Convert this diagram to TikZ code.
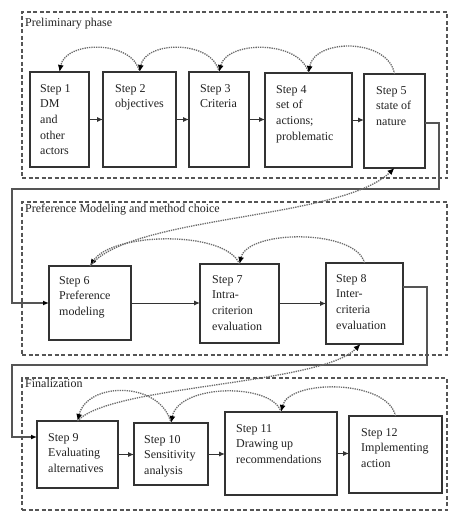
\documentclass[tikz,border=0pt]{standalone}
\usepackage{fontspec}
\setmainfont{Liberation Serif}
\usetikzlibrary{arrows.meta}
\definecolor{boxline}{HTML}{333333}
\definecolor{frameline}{HTML}{555555}
\definecolor{arcline}{HTML}{6A6A6A}
\definecolor{txt}{HTML}{222222}
\tikzset{
  stepbox/.style={draw=boxline, line width=1.3pt, inner sep=0pt, outer sep=0pt, anchor=north west},
  steptext/.style={inner sep=0pt, anchor=north west, align=left, text=txt, font={\fontsize{12}{15.7}\selectfont}},
  phasebox/.style={draw=frameline, line width=1.1pt, dash pattern=on 4pt off 2.5pt, inner sep=0pt, outer sep=0pt, anchor=north west},
  phaselabel/.style={inner sep=0pt, anchor=base west, text=txt, font={\fontsize{12}{14}\selectfont}},
  flow/.style={draw=boxline, line width=1pt, -{Latex[length=6pt,width=5pt]}},
  route/.style={draw=frameline, line width=1.2pt, -{Latex[length=6pt,width=5pt,color=black]}},
  back/.style={draw=arcline, line width=1.3pt, densely dotted, -{Latex[length=7pt,width=6pt,color=black]}},
}
\begin{document}
\begin{tikzpicture}[x=1pt,y=-1pt]
\useasboundingbox[fill=white] (0,0) rectangle (460,527);

% phase frames
\node[phasebox, minimum width=425pt, minimum height=166pt] (ph1) at (22,12) {};
\node[phasebox, minimum width=425pt, minimum height=153pt] (ph2) at (22,202) {};
\node[phasebox, minimum width=425pt, minimum height=132pt] (ph3) at (22,378) {};
\node[phaselabel] (l1) at (25,27) {Preliminary phase};
\node[phaselabel] (l2) at (25,212) {Preference Modeling and method choice};
\node[phaselabel] (l3) at (25,387) {Finalization};

% step boxes
\node[stepbox, minimum width=59pt, minimum height=95pt] (s1) at (30,72) {};
\node[stepbox, minimum width=73pt, minimum height=95pt] (s2) at (103,72) {};
\node[stepbox, minimum width=60pt, minimum height=95pt] (s3) at (189,72) {};
\node[stepbox, minimum width=87pt, minimum height=94pt] (s4) at (265,73) {};
\node[stepbox, minimum width=61pt, minimum height=94pt] (s5) at (364,74) {};
\node[stepbox, minimum width=82pt, minimum height=74pt] (s6) at (49,266) {};
\node[stepbox, minimum width=79pt, minimum height=79pt] (s7) at (200,264) {};
\node[stepbox, minimum width=77pt, minimum height=81pt] (s8) at (326,263) {};
\node[stepbox, minimum width=81pt, minimum height=67pt] (s9) at (37,421) {};
\node[stepbox, minimum width=74pt, minimum height=62pt] (s10) at (134,423) {};
\node[stepbox, minimum width=112pt, minimum height=83pt] (s11) at (225,412) {};
\node[stepbox, minimum width=93pt, minimum height=77pt] (s12) at (349,416) {};

% texts
\node[steptext] (t1) at ([xshift=10pt,yshift=-12pt]s1.north west) {Step 1\\DM\\and\\other\\actors};
\node[steptext] (t2) at ([xshift=12pt,yshift=-12pt]s2.north west) {Step 2\\objectives};
\node[steptext] (t3) at ([xshift=11pt,yshift=-12pt]s3.north west) {Step 3\\Criteria};
\node[steptext] (t4) at ([xshift=11pt,yshift=-12pt]s4.north west) {Step 4\\set of\\actions;\\problematic};
\node[steptext] (t5) at ([xshift=12pt,yshift=-12pt]s5.north west) {Step 5\\state of\\nature};
\node[steptext] (t6) at ([xshift=10pt,yshift=-10pt]s6.north west) {Step 6\\Preference\\modeling};
\node[steptext] (t7) at ([xshift=12pt,yshift=-11pt]s7.north west) {Step 7\\Intra-\\criterion\\evaluation};
\node[steptext] (t8) at ([xshift=10pt,yshift=-11pt]s8.north west) {Step 8\\Inter-\\criteria\\evaluation};
\node[steptext] (t9) at ([xshift=11pt,yshift=-12pt]s9.north west) {Step 9\\Evaluating\\alternatives};
\node[steptext] (t10) at ([xshift=10pt,yshift=-12pt]s10.north west) {Step 10\\Sensitivity\\analysis};
\node[steptext] (t11) at ([xshift=11pt,yshift=-12pt]s11.north west) {Step 11\\Drawing up\\recommendations};
\node[steptext] (t12) at ([xshift=12pt,yshift=-12pt]s12.north west) {Step 12\\Implementing\\action};

% forward arrows
\draw[flow] (s1.east) -- (s1.east -| s2.west);
\draw[flow] (s2.east) -- (s2.east -| s3.west);
\draw[flow] (s3.east) -- (s3.east -| s4.west);
\draw[flow] (s4.east) -- (s4.east -| s5.west);
\draw[flow] (s6.east) -- (s6.east -| s7.west);
\draw[flow] (s7.east) -- (s7.east -| s8.west);
\draw[flow] (s9.east) -- (s9.east -| s10.west);
\draw[flow] (s10.east) -- (s10.east -| s11.west);
\draw[flow] (s11.east) -- (s11.east -| s12.west);

% routing between phases
\coordinate (r1) at (439,189);
\coordinate (r2) at (12,189);
\coordinate (r3) at (427,365);
\coordinate (r4) at (12,365);
\draw[route] ([yshift=-2pt]s5.east) -| (r1) -- (r2) |- (s6.west);
\draw[route] ([yshift=-24pt]s8.north east) -| (r3) -- (r4) |- ([yshift=-16pt]s9.north west);

% feedback arcs
\draw[back] (s2.north) .. controls +(-6,-32) and +(6,-32) .. (s1.north);
\draw[back] (s3.north) .. controls +(-6,-32) and +(6,-32) .. (s2.north);
\draw[back] (s4.north) .. controls +(-8,-33) and +(8,-32) .. (s3.north);
\draw[back] (s5.north) .. controls +(-6,-36) and +(6,-35) .. (s4.north);
\draw[back] (s7.north) .. controls +(-14,-34) and +(22,-34) .. (s6.north);
\draw[back] (s8.north) .. controls +(-8,-34) and +(8,-35) .. (s7.north);
\draw[back] (s6.north) .. controls +(40,-51) and +(-54,52) .. (s5.south);
\draw[back] (s10.north) .. controls +(-10,-42) and +(10,-40) .. (s9.north);
\draw[back] (s11.north) .. controls +(-8,-29) and +(8,-40) .. (s10.north);
\draw[back] (s12.north) .. controls +(-8,-37) and +(8,-33) .. (s11.north);
\draw[back] (s9.north) .. controls +(32,-36) and +(-40,41) .. ([xshift=-4pt]s8.south);
\end{tikzpicture}
\end{document}
